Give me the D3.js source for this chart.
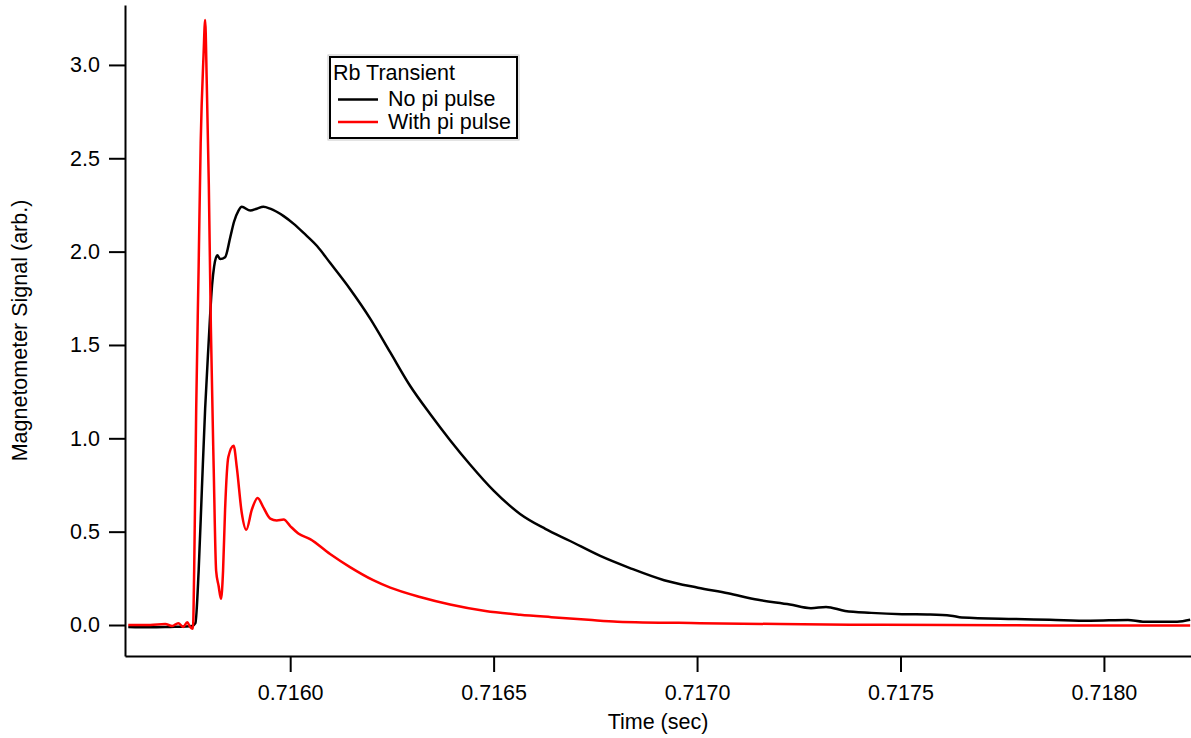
<!DOCTYPE html>
<html>
<head>
<meta charset="utf-8">
<script src="https://cdn.jsdelivr.net/npm/d3@7/dist/d3.min.js"></script>
<style>
  html, body { margin: 0; padding: 0; background: #fff; }
  svg { display: block; }
  text { font-family: "Liberation Sans", Arial, sans-serif; fill: #000; }
</style>
</head>
<body>
<svg id="chart" width="1191" height="738"></svg>
<script>
// ---- data (time in seconds, signal in arb. units) ----
const blackTime = [0.715602,0.715656,0.715705,0.715742,0.715759,0.715767,0.715775,0.715783,0.715791,0.715799,0.715808,0.715813,0.715821,0.715828,0.715840,0.715853,0.715862,0.715873,0.715881,0.715902,0.715918,0.715934,0.715951,0.715984,0.716008,0.716033,0.716066,0.716098,0.716147,0.716197,0.716246,0.716295,0.716344,0.716393,0.716442,0.716500,0.716565,0.716627,0.716688,0.716762,0.716835,0.716919,0.717002,0.717076,0.717150,0.717228,0.717280,0.717317,0.717364,0.717428,0.717504,0.717572,0.717624,0.717651,0.717781,0.717867,0.717966,0.718059,0.718096,0.718180,0.718212];
const blackSignal = [-0.010,-0.012,-0.010,-0.008,-0.005,0.010,0.29,0.73,1.16,1.49,1.82,1.92,1.98,1.96,1.97,2.08,2.16,2.22,2.24,2.22,2.23,2.24,2.23,2.19,2.15,2.10,2.03,1.94,1.80,1.64,1.46,1.28,1.13,0.99,0.86,0.72,0.595,0.515,0.45,0.37,0.305,0.24,0.20,0.17,0.135,0.11,0.09,0.097,0.075,0.065,0.058,0.056,0.050,0.040,0.032,0.028,0.023,0.027,0.018,0.018,0.028];

const redTime = [0.715602,0.715656,0.715693,0.715710,0.715725,0.715737,0.715747,0.715754,0.715761,0.715764,0.715769,0.715775,0.715780,0.715787,0.715791,0.715795,0.715800,0.715805,0.715812,0.715818,0.715824,0.715830,0.715835,0.715840,0.715848,0.715861,0.715869,0.715881,0.715892,0.715906,0.715920,0.715934,0.715951,0.715967,0.715984,0.716000,0.716020,0.716049,0.716098,0.716147,0.716204,0.716246,0.716319,0.716393,0.716480,0.716565,0.716642,0.716733,0.716804,0.717007,0.717204,0.717376,0.717622,0.717867,0.718212];
const redSignal = [0.000,0.000,0.005,-0.005,0.010,-0.010,0.015,-0.010,-0.020,0.29,1.16,1.92,2.58,3.05,3.24,2.90,2.36,1.60,0.84,0.29,0.21,0.14,0.29,0.62,0.90,0.96,0.84,0.60,0.51,0.62,0.68,0.63,0.57,0.56,0.565,0.53,0.49,0.46,0.38,0.31,0.24,0.20,0.15,0.11,0.075,0.055,0.042,0.028,0.018,0.010,0.005,0.002,0.000,-0.002,-0.003];

const xTicks = [0.7160, 0.7165, 0.7170, 0.7175, 0.7180];
const yTicks = [0.0, 0.5, 1.0, 1.5, 2.0, 2.5, 3.0];
const seriesNames = ["No pi pulse", "With pi pulse"];
const seriesColors = ["#000000", "#ff0000"];
const legendTitle = "Rb Transient";
const xTitle = "Time (sec)";
const yTitle = "Magnetometer Signal (arb.)";

// ---- layout ----
const svg = d3.select("#chart");
const plotLeft = 125, plotRight = 1191, plotTop = 5, plotBottom = 656;
const fontSize = 21.5;

const x = d3.scaleLinear().domain([0.715594, 0.718214]).range([plotLeft, plotRight]);
const y = d3.scaleLinear().domain([-0.166, 3.321]).range([plotBottom, plotTop]);

// axes
const xAxis = d3.axisBottom(x).tickValues(xTicks).tickFormat(d3.format(".4f"))
  .tickSizeInner(16).tickSizeOuter(0).tickPadding(13);
const yAxis = d3.axisLeft(y).tickValues(yTicks).tickFormat(d3.format(".1f"))
  .tickSizeInner(16).tickSizeOuter(0).tickPadding(9);

const gx = svg.append("g").attr("transform", `translate(0,${plotBottom})`).call(xAxis);
const gy = svg.append("g").attr("transform", `translate(${plotLeft},0)`).call(yAxis);
[gx, gy].forEach(g => {
  g.selectAll("path.domain").attr("stroke", "#000").attr("stroke-width", 2);
  g.selectAll(".tick line").attr("stroke", "#000").attr("stroke-width", 2);
  g.selectAll(".tick text").attr("font-size", fontSize).attr("font-family", "Liberation Sans, Arial, sans-serif").attr("fill", "#000");
});

// lines
const blackData = blackTime.map((t, i) => [t, blackSignal[i]]);
const redData = redTime.map((t, i) => [t, redSignal[i]]);
const line = d3.line().x(d => x(d[0])).y(d => y(d[1])).curve(d3.curveMonotoneX);

svg.append("path").datum(blackData).attr("d", line)
  .attr("fill", "none").attr("stroke", seriesColors[0]).attr("stroke-width", 2.5)
  .attr("stroke-linejoin", "round");
svg.append("path").datum(redData).attr("d", line)
  .attr("fill", "none").attr("stroke", seriesColors[1]).attr("stroke-width", 2.5)
  .attr("stroke-linejoin", "round");

// axis titles
svg.append("text").attr("x", (plotLeft + plotRight) / 2).attr("y", 729)
  .attr("text-anchor", "middle").attr("font-size", fontSize).text(xTitle);
svg.append("text").attr("transform", `translate(27,${(plotTop + plotBottom) / 2}) rotate(-90)`)
  .attr("text-anchor", "middle").attr("font-size", fontSize).text(yTitle);

// legend
const lg = svg.append("g");
lg.append("rect").attr("x", 328).attr("y", 55).attr("width", 191).attr("height", 85)
  .attr("fill", "none").attr("stroke", "#c8c8c8").attr("stroke-width", 1);
lg.append("rect").attr("x", 330).attr("y", 57).attr("width", 187).attr("height", 81)
  .attr("fill", "#fff").attr("stroke", "#000").attr("stroke-width", 2);
lg.append("text").attr("x", 333).attr("y", 80).attr("font-size", fontSize).text(legendTitle);
const rowY = [99.5, 122];
seriesNames.forEach((name, i) => {
  lg.append("line").attr("x1", 338).attr("x2", 378).attr("y1", rowY[i]).attr("y2", rowY[i])
    .attr("stroke", seriesColors[i]).attr("stroke-width", 2.5);
  lg.append("text").attr("x", 388).attr("y", rowY[i] + 6.5).attr("font-size", fontSize).text(name);
});
</script>
</body>
</html>
